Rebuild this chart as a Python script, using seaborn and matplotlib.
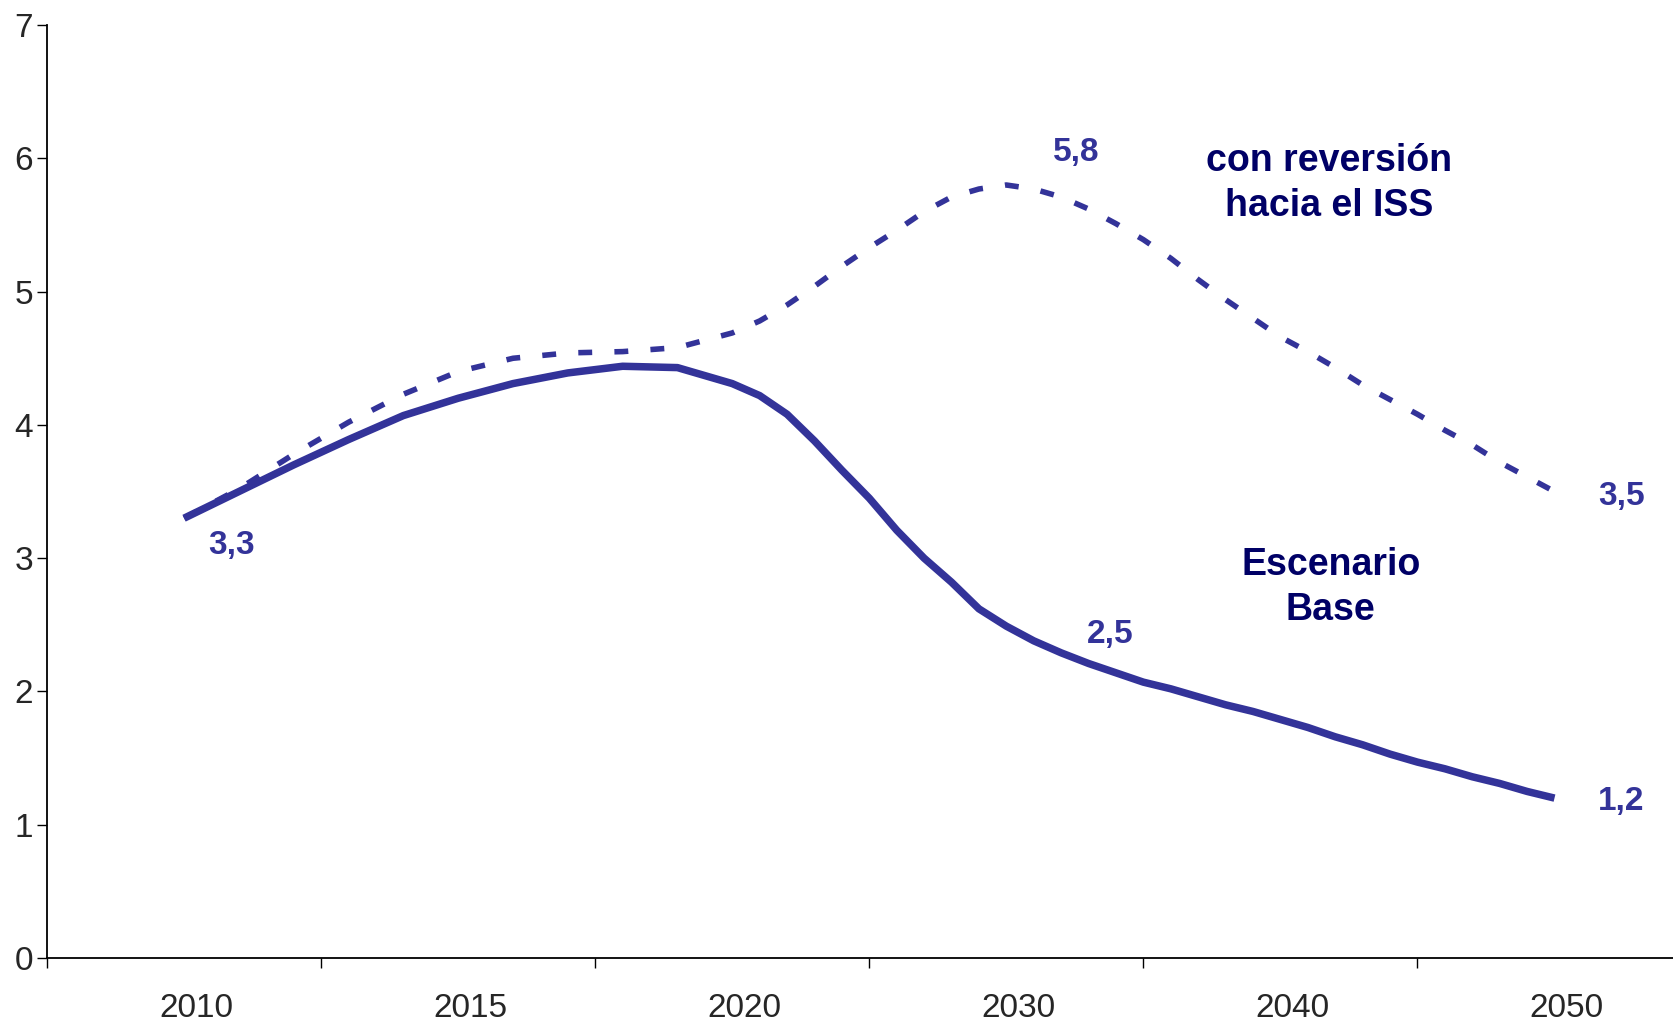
import numpy as np
import pandas as pd
import matplotlib
matplotlib.use('Agg')
import matplotlib.pyplot as plt
import seaborn as sns

# data
years = [2010, 2011, 2012, 2013, 2014, 2015, 2016, 2017, 2018, 2019, 2020,
         2021, 2022, 2023, 2024, 2025, 2026, 2027, 2028, 2029, 2030,
         2031, 2032, 2033, 2034, 2035, 2036, 2037, 2038, 2039, 2040,
         2041, 2042, 2043, 2044, 2045, 2046, 2047, 2048, 2049, 2050]
base = [3.30, 3.50, 3.70, 3.89, 4.07, 4.20, 4.31, 4.39, 4.44, 4.43, 4.31,
        4.22, 4.08, 3.88, 3.66, 3.45, 3.21, 3.00, 2.82, 2.62, 2.49,
        2.38, 2.29, 2.21, 2.14, 2.07, 2.02, 1.96, 1.90, 1.85, 1.79,
        1.73, 1.66, 1.60, 1.53, 1.47, 1.42, 1.36, 1.31, 1.25, 1.20]
reversion = [3.30, 3.52, 3.78, 4.02, 4.23, 4.40, 4.50, 4.54, 4.55, 4.58, 4.69,
             4.78, 4.90, 5.04, 5.19, 5.33, 5.46, 5.60, 5.71, 5.77, 5.80,
             5.77, 5.71, 5.62, 5.51, 5.39, 5.25, 5.09, 4.94, 4.80, 4.66,
             4.55, 4.43, 4.30, 4.19, 4.08, 3.96, 3.85, 3.72, 3.61, 3.50]
tick_years = ['2010', '2015', '2020', '2030', '2040', '2050']

# value labels: (year, series)
labelled = [(2010, 'base'), (2030, 'rev'), (2050, 'rev'), (2030, 'base'), (2050, 'base')]

LINE = '#333399'
NAVY = '#000066'

df = pd.DataFrame({'year': years, 'base': base, 'rev': reversion})
# category axis: 5-year bands up to 2020, 10-year bands after
yr = df['year'].to_numpy()
df['pos'] = np.where(yr <= 2020, (yr - 2010) / 5, 2 + (yr - 2020) / 10)

sns.set_style('ticks')
plt.rcParams['font.family'] = ['Liberation Sans', 'DejaVu Sans']

fig = plt.figure(figsize=(16.74, 10.23), dpi=100)
ax = fig.add_axes([0.0281, 0.0635, 0.9719, 0.9120])

sns.lineplot(data=df, x='pos', y='rev', ax=ax, color=LINE, linewidth=4,
             linestyle=(0, (2.5, 4)), dash_capstyle='butt')
sns.lineplot(data=df, x='pos', y='base', ax=ax, color=LINE, linewidth=5.4,
             solid_capstyle='butt')

ax.set_xlim(-0.5, 5.436)
ax.set_ylim(0, 7)
ax.set_yticks(range(0, 8))
ax.set_xticks(np.arange(-0.5, 5.0, 1))
ax.set_xticklabels([])
ax.set_xticks(np.arange(len(tick_years)) + 0.045, minor=True)
ax.set_xticklabels(tick_years, minor=True)
ax.tick_params(axis='x', which='major', length=7, width=1, direction='out', color='black')
ax.tick_params(axis='x', which='minor', length=0, pad=25, labelsize=24)
ax.tick_params(axis='y', length=7, width=1, direction='out', pad=3, labelsize=24, color='black')
ax.set_xlabel('')
ax.set_ylabel('')
sns.despine(ax=ax)
for s in ['left', 'bottom']:
    ax.spines[s].set_color('black')
    ax.spines[s].set_linewidth(1.3)

offsets = {(2010, 'base'): (47, -27), (2030, 'rev'): (70, 33), (2050, 'rev'): (67, -5),
           (2030, 'base'): (104, -8), (2050, 'base'): (67, -3)}
for y, col in labelled:
    row = df[df['year'] == y].iloc[0]
    txt = f"{row[col]:.1f}".replace('.', ',')
    ax.annotate(txt, (row['pos'], row[col]), xytext=offsets[(y, col)],
                textcoords='offset pixels', ha='center', va='center',
                fontsize=24, fontweight='bold', color=LINE)

ax.text(0.788, 0.830, 'con reversión\nhacia el ISS', transform=ax.transAxes,
        ha='center', va='center', fontsize=27, fontweight='bold', color=NAVY,
        linespacing=1.3)
ax.text(0.789, 0.397, 'Escenario\nBase', transform=ax.transAxes,
        ha='center', va='center', fontsize=27, fontweight='bold', color=NAVY,
        linespacing=1.3)

fig.savefig('out.png', dpi=100)
